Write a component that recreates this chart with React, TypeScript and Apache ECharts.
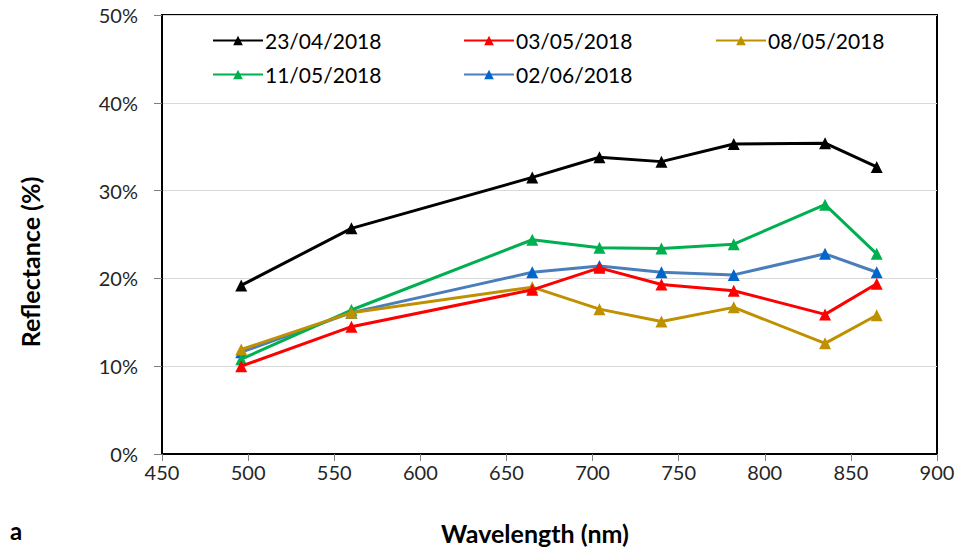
import React, { useEffect, useRef } from "react";
import * as echarts from "echarts";

const wavelengths = [496, 560, 665, 704, 740, 782, 835, 865];
const seriesNames = ["23/04/2018", "03/05/2018", "08/05/2018", "11/05/2018", "02/06/2018"];
const s23Apr = [19.2, 25.7, 31.5, 33.8, 33.3, 35.3, 35.4, 32.7];
const s03May = [10.0, 14.5, 18.7, 21.2, 19.3, 18.6, 15.9, 19.4];
const s08May = [11.9, 16.1, 19.0, 16.5, 15.1, 16.7, 12.6, 15.8];
const s11May = [10.8, 16.4, 24.4, 23.5, 23.4, 23.9, 28.4, 22.8];
const s02Jun = [11.6, 16.1, 20.7, 21.4, 20.7, 20.4, 22.8, 20.7];
const yTicks = [0, 10, 20, 30, 40, 50];

const lineColors = ["#000000", "#ff0000", "#bf9000", "#00b050", "#4a7ebb"];
const markerColors = ["#000000", "#ff0000", "#bf9000", "#00b050", "#0066cc"];

export default function App() {
  const ref = useRef<HTMLDivElement>(null);
  useEffect(() => {
    if (!ref.current) return;
    const chart = echarts.init(ref.current, undefined, { renderer: "svg" });
    const all = [s23Apr, s03May, s08May, s11May, s02Jun];
    const font = "Lato, 'Liberation Sans', sans-serif";
    const legendPos = [
      { left: 207, top: 25 },
      { left: 458, top: 25 },
      { left: 710, top: 25 },
      { left: 207, top: 59 },
      { left: 458, top: 59 },
    ];
    chart.setOption({
      animation: false,
      backgroundColor: "#ffffff",
      textStyle: { fontFamily: font },
      grid: {
        left: 162,
        right: 26,
        top: 15,
        bottom: 101,
        show: true,
        borderColor: "#000000",
        borderWidth: 2,
        containLabel: false,
      },
      legend: seriesNames.map((n, i) => ({
        data: [n],
        left: legendPos[i].left,
        top: legendPos[i].top,
        itemWidth: 50,
        itemHeight: 12,
        itemGap: 2,
        textStyle: { fontSize: 21, color: "#000000", fontFamily: font, padding: [0, 0, 0, -3] },
      })),
      xAxis: {
        type: "value",
        min: 450,
        max: 900,
        interval: 50,
        axisLine: { show: true, lineStyle: { color: "#000000", width: 2 } },
        axisTick: { show: true, length: 7, lineStyle: { color: "#7f7f7f" } },
        axisLabel: { fontSize: 20, color: "#262626", margin: 8, fontFamily: font },
        splitLine: { show: false },
      },
      yAxis: {
        type: "value",
        min: yTicks[0],
        max: yTicks[yTicks.length - 1],
        interval: 10,
        axisLine: { show: true, lineStyle: { color: "#000000", width: 2 } },
        axisTick: { show: true, length: 8, lineStyle: { color: "#7f7f7f" } },
        axisLabel: { fontSize: 20, color: "#262626", margin: 24, formatter: "{value}%", fontFamily: font },
        splitLine: { show: true, lineStyle: { color: "#d9d9d9", width: 1 } },
      },
      graphic: [
        {
          type: "text",
          x: 30,
          y: 262,
          rotation: Math.PI / 2,
          style: {
            text: "Reflectance (%)",
            fontSize: 25,
            fontWeight: "bold",
            fill: "#000000",
            fontFamily: font,
            align: "center",
            verticalAlign: "middle",
          },
        },
        {
          type: "text",
          x: 535,
          y: 533,
          style: {
            text: "Wavelength (nm)",
            fontSize: 25,
            fontWeight: "bold",
            fill: "#000000",
            fontFamily: font,
            align: "center",
            verticalAlign: "middle",
          },
        },
        {
          type: "text",
          x: 16,
          y: 530,
          style: {
            text: "a",
            fontSize: 24,
            fontWeight: "bold",
            fill: "#000000",
            fontFamily: font,
            align: "center",
            verticalAlign: "middle",
          },
        },
      ],
      series: seriesNames.map((n, i) => ({
        name: n,
        type: "line",
        data: wavelengths.map((w, j) => [w, all[i][j]]),
        symbol: "triangle",
        symbolSize: 12,
        showSymbol: true,
        lineStyle: { color: lineColors[i], width: 3 },
        itemStyle: { color: markerColors[i] },
        z: 10 - i,
      })),
    });
    return () => chart.dispose();
  }, []);
  return <div ref={ref} style={{ width: 963, height: 555, margin: -8 }} />;
}
